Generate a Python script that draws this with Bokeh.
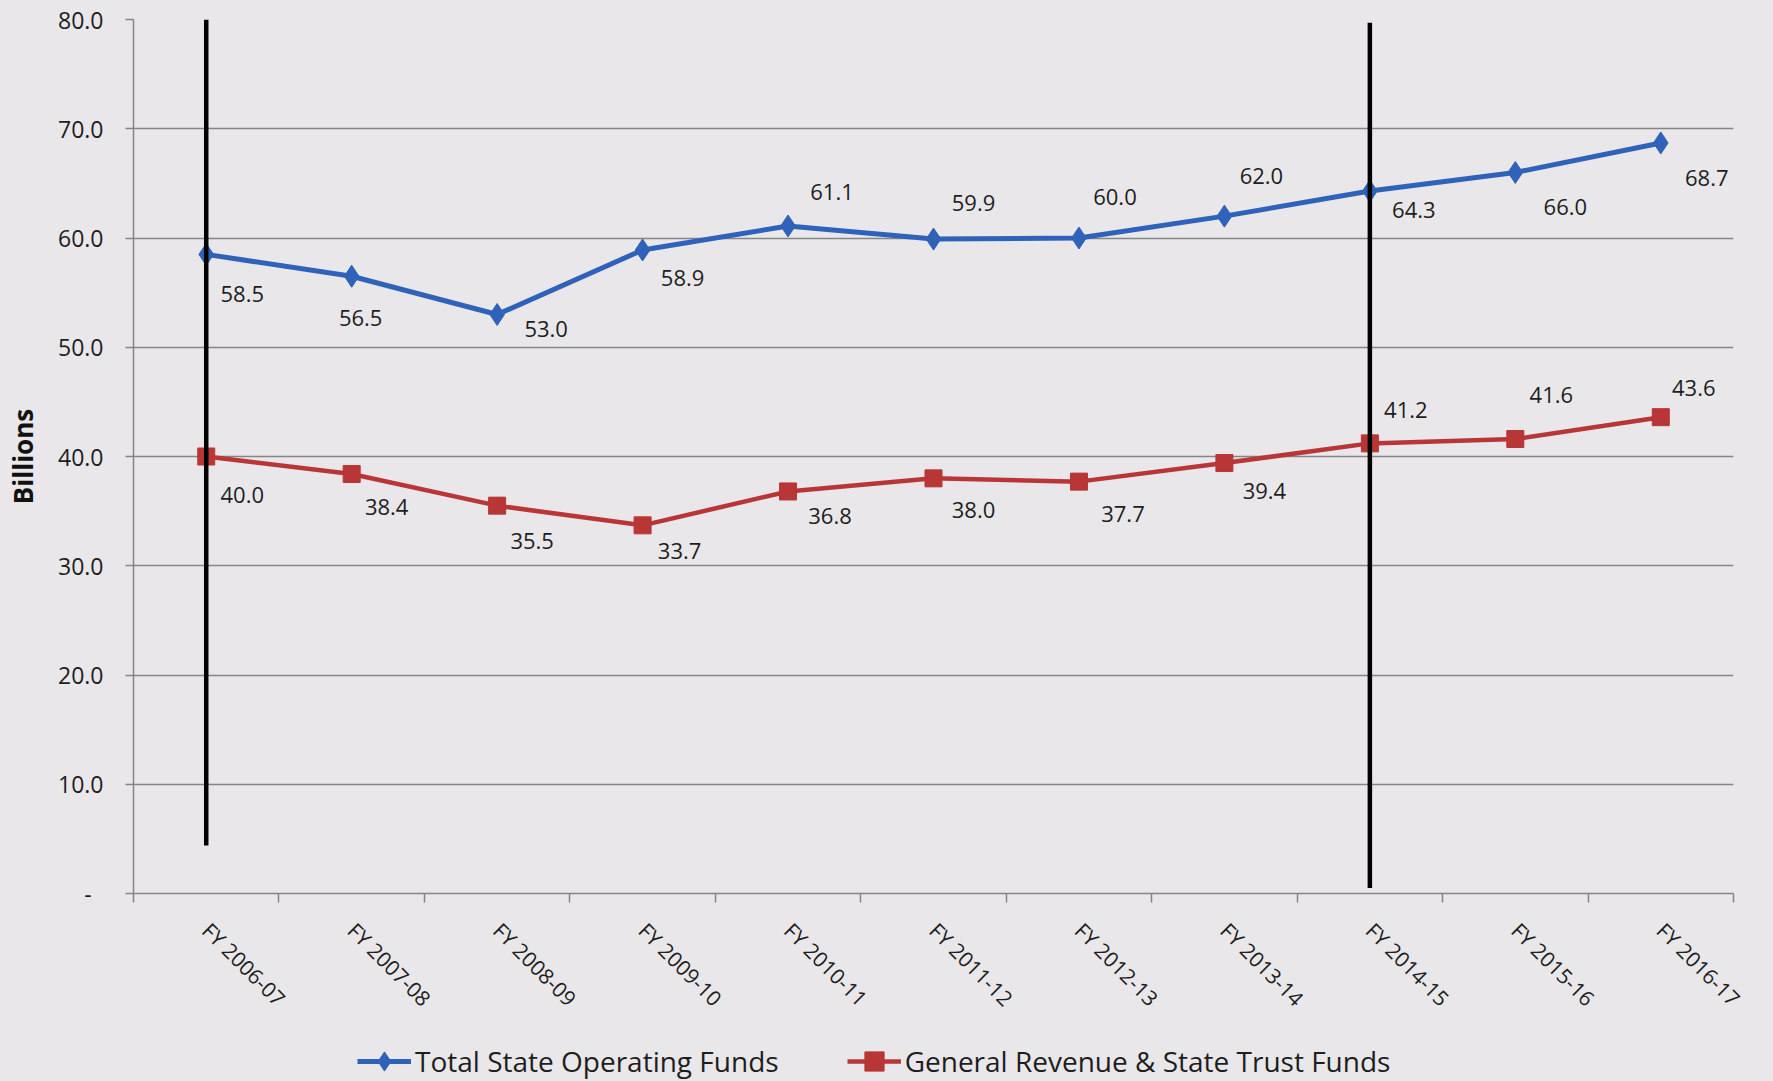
from bokeh.plotting import figure
from bokeh.layouts import column
from bokeh.models import (ColumnDataSource, Range1d, FixedTicker, Legend, LegendItem,
                          CustomJSTickFormatter, NumeralTickFormatter)
from bokeh.core.properties import value
from bokeh.embed import file_html
from bokeh.resources import INLINE

# ---- data -------------------------------------------------------------
years = ["FY 2006-07", "FY 2007-08", "FY 2008-09", "FY 2009-10", "FY 2010-11",
         "FY 2011-12", "FY 2012-13", "FY 2013-14", "FY 2014-15", "FY 2015-16",
         "FY 2016-17"]
total_state_operating = [58.5, 56.5, 53.0, 58.9, 61.1, 59.9, 60.0, 62.0, 64.3, 66.0, 68.7]
general_revenue_trust = [40.0, 38.4, 35.5, 33.7, 36.8, 38.0, 37.7, 39.4, 41.2, 41.6, 43.6]

# vertical marker lines drawn at two fiscal years
divider_years = ["FY 2006-07", "FY 2014-15"]
divider_top = [80.0, 79.7]
divider_bottom = [4.4, 0.5]

y_ticks = [0, 10, 20, 30, 40, 50, 60, 70, 80]

# ---- label placement (pixel offsets from each point) -------------------
total_dx = [36, 9, 49, 40, 44, 40, 36, 37, 44, 50, 46]
total_dy = [40, 42, 15, 28, -34, -36, -41, -40, 19, 35, 35]
genrev_dx = [36, 35, 35, 37, 42, 40, 44, 40, 36, 36, 33]
genrev_dy = [38, 33, 35, 26, 25, 32, 32, 28, -33, -44, -29]

# ---- styling ------------------------------------------------------------
BG = "#e9e7ea"
GRID = "#858585"
BLUE = "#2f63b9"
RED = "#b93636"
FONT = "Open Sans"
TEXT = "#1e1e1e"

W = 1773
MAIN_H = 1035
LEGEND_H = 46

xs = [i + 0.5 for i in range(len(years))]

p = figure(width=W, height=MAIN_H,
           x_range=Range1d(0, len(years)), y_range=Range1d(0, 80),
           output_backend="svg", toolbar_location=None,
           min_border_left=133, min_border_right=40,
           min_border_top=19, min_border_bottom=142,
           background_fill_color=BG, border_fill_color=BG)
p.outline_line_color = None

# x axis: labels at category centres, tick marks on category boundaries
p.xaxis.ticker = FixedTicker(ticks=xs, minor_ticks=list(range(len(years) + 1)))
p.xaxis.formatter = CustomJSTickFormatter(args=dict(cats=years),
                                          code="return cats[Math.floor(tick)];")
p.xaxis.major_tick_out = 0
p.xaxis.major_tick_in = 0
p.xaxis.minor_tick_out = 9
p.xaxis.minor_tick_in = 0
p.xaxis.minor_tick_line_color = GRID
p.xaxis.minor_tick_line_width = 1.5
p.xaxis.axis_line_color = GRID
p.xaxis.axis_line_width = 1.5
p.xaxis.major_label_orientation = -0.785398
p.xaxis.major_label_standoff = 24
p.xaxis.major_label_text_font = FONT
p.xaxis.major_label_text_font_size = "21px"
p.xaxis.major_label_text_color = TEXT

# y axis
p.yaxis.ticker = FixedTicker(ticks=y_ticks)
p.yaxis.formatter = NumeralTickFormatter(format="0.0")
p.yaxis.major_label_overrides = {0: "-\u00a0\u00a0"}
p.yaxis.major_tick_out = 8
p.yaxis.major_tick_in = 0
p.yaxis.minor_tick_out = 0
p.yaxis.minor_tick_in = 0
p.yaxis.major_tick_line_color = GRID
p.yaxis.major_tick_line_width = 1.5
p.yaxis.axis_line_color = GRID
p.yaxis.axis_line_width = 1.5
p.yaxis.major_label_standoff = 22
p.yaxis.major_label_text_font = FONT
p.yaxis.major_label_text_font_size = "23px"
p.yaxis.major_label_text_color = TEXT
p.yaxis.axis_label = "Billions"
p.yaxis.axis_label_text_font = FONT
p.yaxis.axis_label_text_font_style = "bold"
p.yaxis.axis_label_text_font_size = "26px"
p.yaxis.axis_label_text_color = "#111111"
p.yaxis.axis_label_standoff = 14

p.xgrid.grid_line_color = None
p.ygrid.ticker = FixedTicker(ticks=y_ticks)
p.ygrid.grid_line_color = GRID
p.ygrid.grid_line_width = 1.5

# ---- series ----------------------------------------------------------------
src_total = ColumnDataSource(dict(
    x=xs, y=total_state_operating,
    label=[f"{v:.1f}" for v in total_state_operating],
    dx=total_dx, dy=total_dy))
src_gen = ColumnDataSource(dict(
    x=xs, y=general_revenue_trust,
    label=[f"{v:.1f}" for v in general_revenue_trust],
    dx=genrev_dx, dy=genrev_dy))

line_total = dict(line_color=BLUE, line_width=5)
mark_total = dict(marker="diamond", size=22, fill_color=BLUE, line_color=BLUE)
line_gen = dict(line_color=RED, line_width=4.5)
mark_gen = dict(marker="square", size=17, fill_color=RED, line_color=RED)

p.line("x", "y", source=src_total, **line_total)
p.scatter("x", "y", source=src_total, **mark_total)
p.line("x", "y", source=src_gen, **line_gen)
p.scatter("x", "y", source=src_gen, **mark_gen)

# vertical black markers
div_x = [years.index(y) + 0.5 for y in divider_years]
p.segment(x0=div_x, x1=div_x, y0=divider_top, y1=divider_bottom,
          line_color="#000000", line_width=4.5)

# value labels
for src in (src_total, src_gen):
    p.text("x", "y", text="label", source=src, x_offset="dx", y_offset="dy",
           text_align="center", text_baseline="middle",
           text_font=value(FONT), text_font_size="22px", text_color=TEXT)

# ---- legend strip underneath ------------------------------------------------
# The same series are drawn here outside the visible range, so only the
# legend shows in this strip.
leg = figure(width=W, height=LEGEND_H, x_range=Range1d(-100, -99),
             y_range=Range1d(0, 1), output_backend="svg", toolbar_location=None,
             min_border=0, border_fill_color=BG)
leg.background_fill_alpha = 0
leg.outline_line_color = None
leg.axis.visible = False
leg.grid.visible = False
lt = leg.line("x", "y", source=src_total, **line_total)
mt = leg.scatter("x", "y", source=src_total, **mark_total)
lg = leg.line("x", "y", source=src_gen, **line_gen)
mg = leg.scatter("x", "y", source=src_gen, **mark_gen)

legend = Legend(items=[
    LegendItem(label="Total State Operating Funds", renderers=[lt, mt]),
    LegendItem(label="General Revenue & State Trust Funds", renderers=[lg, mg]),
], orientation="horizontal", location=(224, -4))
legend.glyph_width = 54
legend.glyph_height = 48
legend.label_standoff = 4
legend.spacing = 68
legend.padding = 0
legend.margin = 0
legend.border_line_color = None
legend.background_fill_alpha = 0
legend.label_text_font = FONT
legend.label_text_font_size = "28px"
legend.label_text_color = TEXT
leg.add_layout(legend)

layout = column(p, leg, spacing=0, styles={"background-color": BG})
open("out.html", "w").write(file_html(layout, INLINE))
